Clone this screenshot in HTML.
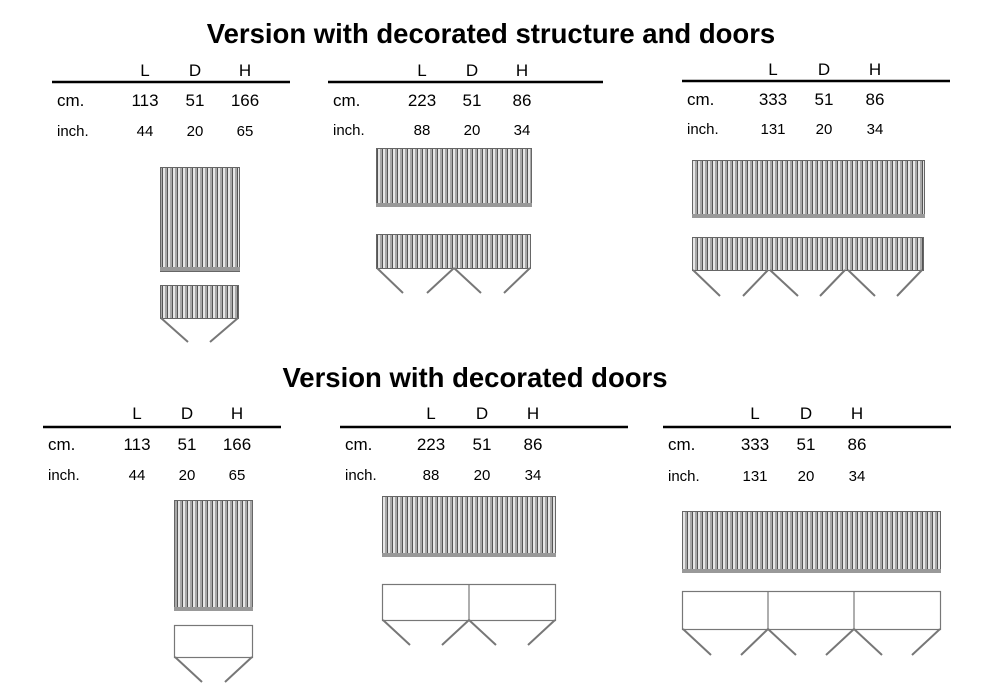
<!DOCTYPE html>
<html><head><meta charset="utf-8"><style>
html,body{margin:0;padding:0;background:#fff;}
svg{display:block;font-family:"Liberation Sans",Arial,sans-serif;}
</style></head><body>
<svg width="1000" height="700" viewBox="0 0 1000 700" xmlns="http://www.w3.org/2000/svg">
<defs>
<pattern id="st" width="5" height="10" patternUnits="userSpaceOnUse">
<rect width="5" height="10" fill="#e6e6e6"/>
<rect x="0" width="2" height="10" fill="#a8a8a8"/>
<rect x="2" width="1" height="10" fill="#555"/>
</pattern>
</defs>
<g fill="#000">
<text x="491" y="43" font-size="27.5" font-weight="bold" text-anchor="middle">Version with decorated structure and doors</text>
<text x="475" y="387" font-size="27.5" font-weight="bold" text-anchor="middle">Version with decorated doors</text>
</g>
<g stroke="#000" stroke-width="2.5">
<line x1="52" y1="82" x2="290" y2="82"/>
<line x1="328" y1="82" x2="603" y2="82"/>
<line x1="682" y1="81" x2="950" y2="81"/>
<line x1="43" y1="427" x2="281" y2="427"/>
<line x1="340" y1="427" x2="628" y2="427"/>
<line x1="663" y1="427" x2="951" y2="427"/>
</g>
<g font-size="17" text-anchor="middle" fill="#000">
<text x="145" y="76">L</text><text x="195" y="76">D</text><text x="245" y="76">H</text>
<text x="145" y="106">113</text><text x="195" y="106">51</text><text x="245" y="106">166</text>
<text x="422" y="76">L</text><text x="472" y="76">D</text><text x="522" y="76">H</text>
<text x="422" y="106">223</text><text x="472" y="106">51</text><text x="522" y="106">86</text>
<text x="773" y="75">L</text><text x="824" y="75">D</text><text x="875" y="75">H</text>
<text x="773" y="105">333</text><text x="824" y="105">51</text><text x="875" y="105">86</text>
<text x="137" y="419">L</text><text x="187" y="419">D</text><text x="237" y="419">H</text>
<text x="137" y="450">113</text><text x="187" y="450">51</text><text x="237" y="450">166</text>
<text x="431" y="419">L</text><text x="482" y="419">D</text><text x="533" y="419">H</text>
<text x="431" y="450">223</text><text x="482" y="450">51</text><text x="533" y="450">86</text>
<text x="755" y="419">L</text><text x="806" y="419">D</text><text x="857" y="419">H</text>
<text x="755" y="450">333</text><text x="806" y="450">51</text><text x="857" y="450">86</text>
</g>
<g font-size="15" text-anchor="middle" fill="#000">
<text x="145" y="136">44</text><text x="195" y="136">20</text><text x="245" y="136">65</text>
<text x="422" y="135">88</text><text x="472" y="135">20</text><text x="522" y="135">34</text>
<text x="773" y="134">131</text><text x="824" y="134">20</text><text x="875" y="134">34</text>
<text x="137" y="480">44</text><text x="187" y="480">20</text><text x="237" y="480">65</text>
<text x="431" y="480">88</text><text x="482" y="480">20</text><text x="533" y="480">34</text>
<text x="755" y="481">131</text><text x="806" y="481">20</text><text x="857" y="481">34</text>
</g>
<g fill="#000">
<text x="57" y="106" font-size="17">cm.</text><text x="57" y="136" font-size="15">inch.</text>
<text x="333" y="106" font-size="17">cm.</text><text x="333" y="135" font-size="15">inch.</text>
<text x="687" y="105" font-size="17">cm.</text><text x="687" y="134" font-size="15">inch.</text>
<text x="48" y="450" font-size="17">cm.</text><text x="48" y="480" font-size="15">inch.</text>
<text x="345" y="450" font-size="17">cm.</text><text x="345" y="480" font-size="15">inch.</text>
<text x="668" y="450" font-size="17">cm.</text><text x="668" y="481" font-size="15">inch.</text>
</g>
<g stroke="#666" stroke-width="1" fill="url(#st)">
<rect x="160.5" y="167.5" width="79" height="104"/>
<rect x="160.5" y="285.5" width="78" height="33"/>
<rect x="376.5" y="148.5" width="155" height="58"/>
<rect x="376.5" y="234.5" width="154" height="34"/>
<rect x="692.5" y="160.5" width="232" height="57"/>
<rect x="692.5" y="237.5" width="231" height="33"/>
<rect x="174.5" y="500.5" width="78" height="110"/>
<rect x="382.5" y="496.5" width="173" height="60"/>
<rect x="682.5" y="511.5" width="258" height="61"/>
</g>
<g fill="#999">
<rect x="160" y="267" width="80" height="4"/>
<rect x="376" y="203" width="156" height="4"/>
<rect x="692" y="214" width="233" height="4"/>
<rect x="174" y="607" width="79" height="4"/>
<rect x="382" y="553" width="174" height="4"/>
<rect x="682" y="569" width="259" height="4"/>
</g>
<g stroke="#777" stroke-width="1.2" fill="#fff">
<rect x="174.5" y="625.5" width="78" height="32"/>
<rect x="382.5" y="584.5" width="173" height="36"/>
<line x1="469" y1="584" x2="469" y2="621"/>
<rect x="682.5" y="591.5" width="258" height="38"/>
<line x1="768" y1="591" x2="768" y2="630"/>
<line x1="854" y1="591" x2="854" y2="630"/>
</g>
<g stroke="#777" stroke-width="2" fill="none">
<line x1="161" y1="318" x2="188" y2="342"/><line x1="238" y1="318" x2="210" y2="342"/>
<line x1="377" y1="268" x2="403" y2="293"/><line x1="454" y1="268" x2="427" y2="293"/>
<line x1="454" y1="268" x2="481" y2="293"/><line x1="530" y1="268" x2="504" y2="293"/>
<line x1="693" y1="270" x2="720" y2="296"/><line x1="768" y1="270" x2="743" y2="296"/>
<line x1="770" y1="270" x2="798" y2="296"/><line x1="845" y1="270" x2="820" y2="296"/>
<line x1="848" y1="270" x2="875" y2="296"/><line x1="922" y1="270" x2="897" y2="296"/>
<line x1="175" y1="657" x2="202" y2="682"/><line x1="252" y1="657" x2="225" y2="682"/>
<line x1="383" y1="620" x2="410" y2="645"/><line x1="469" y1="620" x2="442" y2="645"/>
<line x1="469" y1="620" x2="496" y2="645"/><line x1="555" y1="620" x2="528" y2="645"/>
<line x1="683" y1="629" x2="711" y2="655"/><line x1="768" y1="629" x2="741" y2="655"/>
<line x1="768" y1="629" x2="796" y2="655"/><line x1="854" y1="629" x2="826" y2="655"/>
<line x1="854" y1="629" x2="882" y2="655"/><line x1="940" y1="629" x2="912" y2="655"/>
</g>
</svg>
</body></html>
